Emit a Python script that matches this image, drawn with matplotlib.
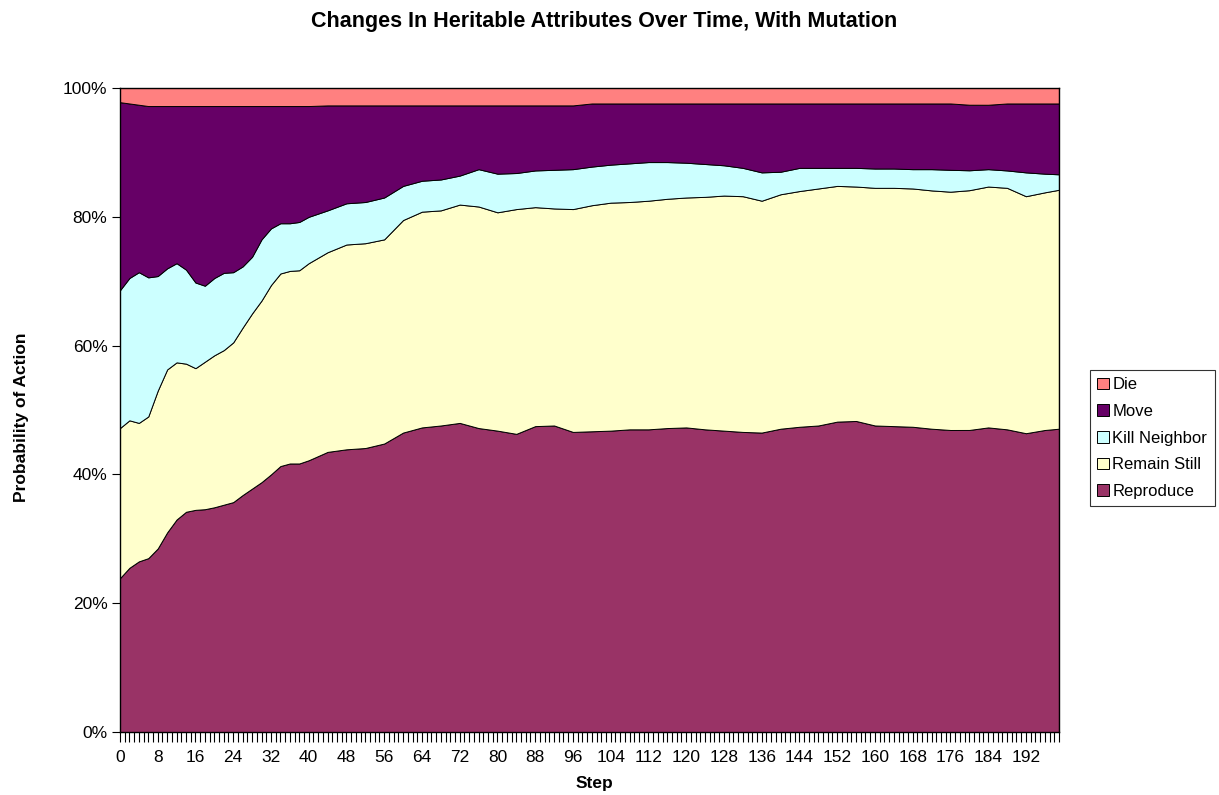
import numpy as np
import matplotlib
matplotlib.use('Agg')
import matplotlib.pyplot as plt
from matplotlib.patches import Patch
from matplotlib.ticker import MultipleLocator, FixedLocator

plt.rcParams['font.family'] = ['Liberation Sans', 'DejaVu Sans']

# Valores (percentual de cada acao por passo)
passos = [0, 2, 4, 6, 8, 10, 12, 14, 16, 18, 20, 22, 24, 26, 28, 30, 32, 34, 36, 38,
          40, 44, 48, 52, 56, 60, 64, 68, 72, 76, 80, 84, 88, 92, 96, 100, 104, 108,
          112, 116, 120, 124, 128, 132, 136, 140, 144, 148, 152, 156, 160, 164, 168,
          172, 176, 180, 184, 188, 192, 196, 199]

reproduce = [23.9, 25.5, 26.5, 27.0, 28.5, 31.0, 33.0, 34.2, 34.5, 34.6, 34.9, 35.3,
             35.7, 36.8, 37.8, 38.8, 40.0, 41.3, 41.7, 41.7, 42.2, 43.5, 43.9, 44.1,
             44.8, 46.5, 47.3, 47.6, 48.0, 47.2, 46.8, 46.3, 47.5, 47.6, 46.6, 46.7,
             46.8, 47.0, 47.0, 47.2, 47.3, 47.0, 46.8, 46.6, 46.5, 47.1, 47.4, 47.6,
             48.2, 48.3, 47.6, 47.5, 47.4, 47.1, 46.9, 47.0, 47.3, 47.0, 46.4, 46.9, 47.1]

remain_still = [23.3, 22.9, 21.5, 22.0, 24.5, 25.3, 24.4, 23.0, 22.0, 22.9, 23.6, 24.0,
                24.8, 26.0, 27.2, 28.2, 29.4, 29.9, 29.9, 30.0, 30.6, 31.0, 31.8, 31.8,
                31.7, 33.0, 33.5, 33.4, 33.9, 34.4, 33.9, 34.9, 34.0, 33.7, 34.6, 35.1,
                35.4, 35.3, 35.5, 35.6, 35.7, 36.1, 36.5, 36.6, 36.0, 36.4, 36.6, 36.8,
                36.6, 36.4, 36.9, 37.0, 37.0, 37.0, 37.0, 37.3, 37.4, 37.5, 36.8, 36.9, 37.1]

kill_neighbor = [21.4, 22.1, 23.4, 21.6, 17.8, 15.7, 15.4, 14.6, 13.3, 11.8, 12.0, 12.0,
                 10.9, 9.5, 8.8, 9.5, 8.8, 7.8, 7.4, 7.5, 7.2, 6.5, 6.4, 6.4,
                 6.5, 5.3, 4.8, 4.8, 4.5, 5.8, 6.0, 5.6, 5.7, 6.0, 6.2, 6.0,
                 5.9, 6.0, 6.0, 5.7, 5.4, 5.1, 4.7, 4.4, 4.4, 3.5, 3.6, 3.2,
                 2.8, 2.9, 3.0, 3.0, 3.0, 3.3, 3.4, 3.1, 2.7, 2.7, 3.7, 2.9, 2.4]

move = [29.2, 27.1, 26.0, 26.6, 26.4, 25.2, 24.4, 25.4, 27.4, 27.9, 26.7, 25.9,
        25.8, 24.9, 23.4, 20.7, 19.0, 18.2, 18.2, 18.0, 17.2, 16.3, 15.2, 15.0,
        14.3, 12.5, 11.7, 11.5, 10.9, 9.9, 10.6, 10.5, 10.1, 10.0, 9.9, 9.8,
        9.5, 9.3, 9.1, 9.1, 9.2, 9.4, 9.6, 10.0, 10.7, 10.6, 10.0, 10.0,
        10.0, 10.0, 10.1, 10.1, 10.2, 10.2, 10.3, 10.2, 10.0, 10.4, 10.7, 10.9, 11.0]

die = [2.2, 2.4, 2.6, 2.8, 2.8, 2.8, 2.8, 2.8, 2.8, 2.8, 2.8, 2.8,
       2.8, 2.8, 2.8, 2.8, 2.8, 2.8, 2.8, 2.8, 2.8, 2.7, 2.7, 2.7,
       2.7, 2.7, 2.7, 2.7, 2.7, 2.7, 2.7, 2.7, 2.7, 2.7, 2.7, 2.4,
       2.4, 2.4, 2.4, 2.4, 2.4, 2.4, 2.4, 2.4, 2.4, 2.4, 2.4, 2.4,
       2.4, 2.4, 2.4, 2.4, 2.4, 2.4, 2.4, 2.6, 2.6, 2.4, 2.4, 2.4, 2.4]

acoes = ['Reproduce', 'Remain Still', 'Kill Neighbor', 'Move', 'Die']
cores = ['#993366', '#FFFFCC', '#CCFFFF', '#660066', '#FF8080']

fig = plt.figure(figsize=(12.19, 7.95), dpi=100)
ax = fig.add_axes([0.0984, 0.0792, 0.7703, 0.8101])

# 100% empilhado: normaliza cada passo
dados = np.array([reproduce, remain_still, kill_neighbor, move, die], dtype=float)
dados = dados / dados.sum(axis=0) * 100

ax.stackplot(passos, dados, colors=cores, edgecolor='black', linewidth=0.7)

ax.set_xlim(0, 199)
ax.set_ylim(0, 100)
ax.xaxis.set_major_locator(FixedLocator(range(0, 200, 8)))
ax.xaxis.set_minor_locator(MultipleLocator(1))
ax.yaxis.set_major_locator(FixedLocator([0, 20, 40, 60, 80, 100]))
ax.set_yticklabels([f'{v}%' for v in [0, 20, 40, 60, 80, 100]])
ax.tick_params(axis='x', which='both', direction='out', length=7, width=0.8, labelsize=12.5, pad=6)
ax.tick_params(axis='y', which='major', direction='out', length=6, width=0.8, labelsize=12.5, pad=3)
for s in ax.spines.values():
    s.set_linewidth(1.0)

ax.set_xlabel('Step', fontsize=12.5, fontweight='bold')
ax.xaxis.set_label_coords(0.505, -0.068)
ax.set_ylabel('Probability of Action', fontsize=12.5, fontweight='bold')
ax.yaxis.set_label_coords(-0.097, 0.488)
fig.suptitle('Changes In Heritable Attributes Over Time, With Mutation',
             fontsize=15.5, fontweight='bold', x=0.496, y=0.986)

# Legenda na ordem inversa, estilo Excel
handles = [Patch(facecolor=c, edgecolor='black', linewidth=0.7) for c in cores[::-1]]
leg = fig.legend(handles, acoes[::-1], loc='center left', bbox_to_anchor=(0.894, 0.449),
                 fontsize=12, frameon=True, fancybox=False, edgecolor='black',
                 handlelength=0.7, handleheight=0.7, handletextpad=0.2,
                 labelspacing=0.7, borderpad=0.45, borderaxespad=0)
leg.get_frame().set_linewidth(0.8)

plt.savefig('out.png', dpi=100)
plt.close()
